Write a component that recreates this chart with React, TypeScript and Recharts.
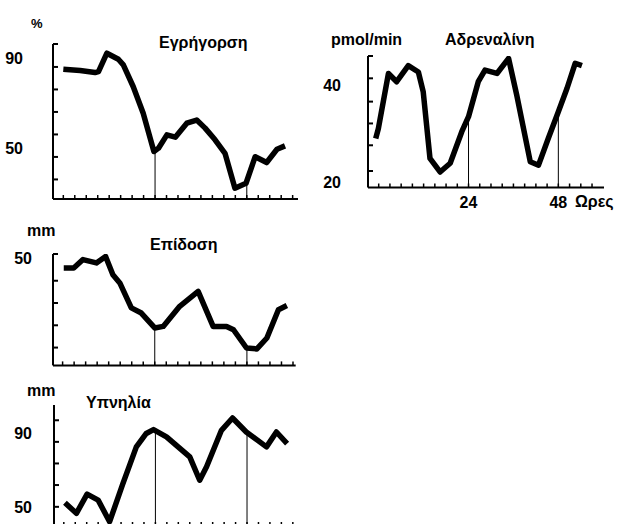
import React from 'react';
import { LineChart, Line, XAxis, YAxis, ReferenceLine } from 'recharts';

// hours on the x axis, one tick every 3 h
const hourTicks = [0, 3, 6, 9, 12, 15, 18, 21, 24, 27, 30, 33, 36, 39, 42, 45, 48, 51, 54, 57, 60];
const adrenalineHourTicks = [0, 3, 6, 9, 12, 15, 18, 21, 24, 27, 30, 33, 36, 39, 42, 45, 48, 51, 54, 57];
const markerHours = [24, 48];
const adrenalineHourLabels = [24, 48];

// Εγρήγορση (%)
const alertHours = [0, 4.4, 8.3, 9.2, 11.4, 14.4, 15.7, 18.3, 20.9, 23.7, 24.9, 27.1, 29.3, 32.3, 34.9, 37.1, 39.7, 42.3, 44.9, 47.8, 50.2, 53.2, 55.9, 58.0];
const alertValues = [85.0, 84.4, 83.5, 83.9, 92.1, 89.4, 86.9, 77.2, 65.4, 48.4, 49.9, 55.8, 54.8, 61.0, 62.4, 58.8, 53.6, 47.6, 32.1, 34.3, 46.1, 43.5, 49.4, 50.9];
const alertTicks = [36, 46, 56, 66, 76, 86, 96.2];
const alertLabels = [50, 90];

// Αδρεναλίνη (pmol/min)
const adrenalineHours = [-0.8, -0.1, 2.6, 4.8, 7.9, 10.6, 11.9, 13.7, 16.4, 19.1, 22.2, 24.0, 26.6, 28.4, 31.6, 34.7, 36.9, 40.5, 42.7, 45.3, 48.0, 50.3, 52.5, 54.3];
const adrenalineValues = [29.0, 31.0, 42.4, 40.7, 44.0, 42.7, 38.6, 24.9, 22.1, 23.9, 30.4, 33.5, 40.7, 43.1, 42.4, 45.5, 37.9, 24.2, 23.5, 29.0, 34.5, 39.3, 44.5, 44.0];
const adrenalineTicks = [22.3, 27.6, 32.1, 36.6, 41.4, 46];
const adrenalineLabels = [20, 40];

// Επίδοση (mm)
const performanceHours = [0.3, 2.9, 5.3, 8.8, 11.2, 13.1, 14.9, 17.9, 20.5, 24.0, 26.2, 30.5, 35.3, 39.2, 42.7, 44.5, 47.9, 50.6, 53.2, 56.2, 58.4];
const performanceValues = [45.7, 45.7, 49.5, 48.0, 50.9, 42.7, 39.0, 27.8, 25.5, 18.8, 19.5, 28.5, 35.2, 19.5, 19.5, 18.0, 9.8, 9.4, 14.3, 27.0, 28.9];
const performanceTicks = [10, 20, 30, 40, 52];
const performanceLabels = [50];

// Υπνηλία (mm)
const sleepHours = [0.3, 3.3, 6.1, 9.0, 12.0, 15.5, 19.0, 21.6, 23.5, 26.9, 33.0, 35.6, 37.4, 41.3, 44.2, 47.8, 53.1, 55.7, 58.5];
const sleepValues = [52.5, 46.8, 57.1, 53.9, 42.3, 62.9, 82.5, 89.7, 91.8, 87.9, 77.1, 64.6, 71.8, 91.4, 98.0, 90.5, 82.5, 90.5, 84.3];
const sleepTicks = [50.3, 62, 73.6, 85.2, 96.8];
const sleepLabels = [50, 90];

const FONT = '"Liberation Sans", Arial, sans-serif';

const valueAt = (hours: number[], values: number[], h: number) => {
  for (let i = 1; i < hours.length; i++) {
    if (hours[i] >= h) {
      const t = (h - hours[i - 1]) / (hours[i] - hours[i - 1]);
      return values[i - 1] + t * (values[i] - values[i - 1]);
    }
  }
  return values[values.length - 1];
};

const XTick = ({ x, y, payload, labels }: any) => (
  <g>
    <line x1={x} x2={x} y1={y} y2={y - 4} stroke="#000" strokeWidth={1.5} />
    {labels.includes(payload.value) && (
      <text x={x} y={y + 20} textAnchor="middle" fontFamily={FONT} fontWeight="bold" fontSize={16} fill="#000">
        {payload.value}
      </text>
    )}
  </g>
);

const YTick = ({ x, y, payload, labels, gap }: any) =>
  labels.includes(payload.value) ? (
    <text x={x - gap} y={y} dy="0.36em" textAnchor="end" fontFamily={FONT} fontWeight="bold" fontSize={16} fill="#000">
      {payload.value}
    </text>
  ) : (
    <line x1={x} x2={x + 5} y1={y} y2={y} stroke="#000" strokeWidth={2} />
  );

interface PanelProps {
  plot: { left: number; top: number; right: number; bottom: number };
  xDomain: [number, number];
  yDomain: [number, number];
  hours: number[];
  values: number[];
  xTicks: number[];
  xLabels: number[];
  yTicks: number[];
  yLabels: number[];
  labelGap: number;
}

const Panel: React.FC<PanelProps> = ({ plot, xDomain, yDomain, hours, values, xTicks, xLabels, yTicks, yLabels, labelGap }) => {
  const data = hours.map((h, i) => ({ h, v: values[i] }));
  const width = plot.right - plot.left + 70;
  const height = plot.bottom - plot.top + 40;
  return (
    <div style={{ position: 'absolute', left: plot.left - 60, top: plot.top - 10 }}>
      <LineChart width={width} height={height} data={data} margin={{ top: 10, right: 10, bottom: 0, left: 0 }}>
        <XAxis
          type="number"
          dataKey="h"
          domain={xDomain}
          allowDataOverflow
          ticks={xTicks}
          interval={0}
          height={30}
          tickSize={0}
          tickMargin={0}
          tickLine={false}
          axisLine={{ stroke: '#000', strokeWidth: 2 }}
          tick={(props: any) => <XTick {...props} labels={xLabels} />}
        />
        <YAxis
          type="number"
          domain={yDomain}
          allowDataOverflow
          ticks={[...yTicks, ...yLabels]}
          interval={0}
          width={60}
          tickSize={0}
          tickMargin={0}
          tickLine={false}
          axisLine={{ stroke: '#000', strokeWidth: 2 }}
          tick={(props: any) => <YTick {...props} labels={yLabels} gap={labelGap} />}
        />
        {markerHours.map((m) => (
          <ReferenceLine
            key={m}
            segment={[{ x: m, y: yDomain[0] }, { x: m, y: valueAt(hours, values, m) }]}
            stroke="#000"
            strokeWidth={1}
          />
        ))}
        <Line
          type="linear"
          dataKey="v"
          stroke="#000"
          strokeWidth={5.5}
          strokeLinejoin="round"
          dot={false}
          isAnimationActive={false}
        />
      </LineChart>
    </div>
  );
};

const txt = { fontFamily: FONT, fontWeight: 'bold' as const, fill: '#000' };

export default function App() {
  return (
    <div style={{ position: 'absolute', left: 0, top: 0, width: 617, height: 524, overflow: 'hidden', background: '#fff' }}>
      <Panel
        plot={{ left: 53, top: 44, right: 298, bottom: 199 }}
        xDomain={[-2.7, 61.4]}
        yDomain={[27.3, 96.2]}
        hours={alertHours}
        values={alertValues}
        xTicks={hourTicks}
        xLabels={[]}
        yTicks={alertTicks}
        yLabels={alertLabels}
        labelGap={30}
      />
      <Panel
        plot={{ left: 368, top: 56, right: 604, bottom: 187.5 }}
        xDomain={[-2.86, 60.2]}
        yDomain={[18.9, 46]}
        hours={adrenalineHours}
        values={adrenalineValues}
        xTicks={adrenalineHourTicks}
        xLabels={adrenalineHourLabels}
        yTicks={adrenalineTicks}
        yLabels={adrenalineLabels}
        labelGap={27}
      />
      <Panel
        plot={{ left: 53.3, top: 254.3, right: 296, bottom: 365.7 }}
        xDomain={[-2.5, 60.7]}
        yDomain={[2, 52]}
        hours={performanceHours}
        values={performanceValues}
        xTicks={hourTicks}
        xLabels={[]}
        yTicks={performanceTicks}
        yLabels={performanceLabels}
        labelGap={21}
      />
      <Panel
        plot={{ left: 54.3, top: 405, right: 296, bottom: 526 }}
        xDomain={[-2.57, 60.75]}
        yDomain={[40, 105]}
        hours={sleepHours}
        values={sleepValues}
        xTicks={hourTicks}
        xLabels={[]}
        yTicks={sleepTicks}
        yLabels={sleepLabels}
        labelGap={22}
      />
      <svg width={617} height={524} style={{ position: 'absolute', left: 0, top: 0, pointerEvents: 'none' }}>
        <text x={31} y={28} fontSize={13} {...txt}>%</text>
        <text x={159} y={48} fontSize={16} {...txt}>Εγρήγορση</text>
        <text x={331} y={45} fontSize={16} {...txt}>pmol/min</text>
        <text x={445} y={45} fontSize={16} {...txt}>Αδρεναλίνη</text>
        <text x={575} y={207} fontSize={16} {...txt}>Ωρες</text>
        <text x={27} y={236} fontSize={16} {...txt}>mm</text>
        <text x={150} y={250} fontSize={16} {...txt}>Επίδοση</text>
        <text x={27} y={396} fontSize={16} {...txt}>mm</text>
        <text x={86} y={408} fontSize={16} {...txt}>Υπνηλία</text>
      </svg>
    </div>
  );
}
